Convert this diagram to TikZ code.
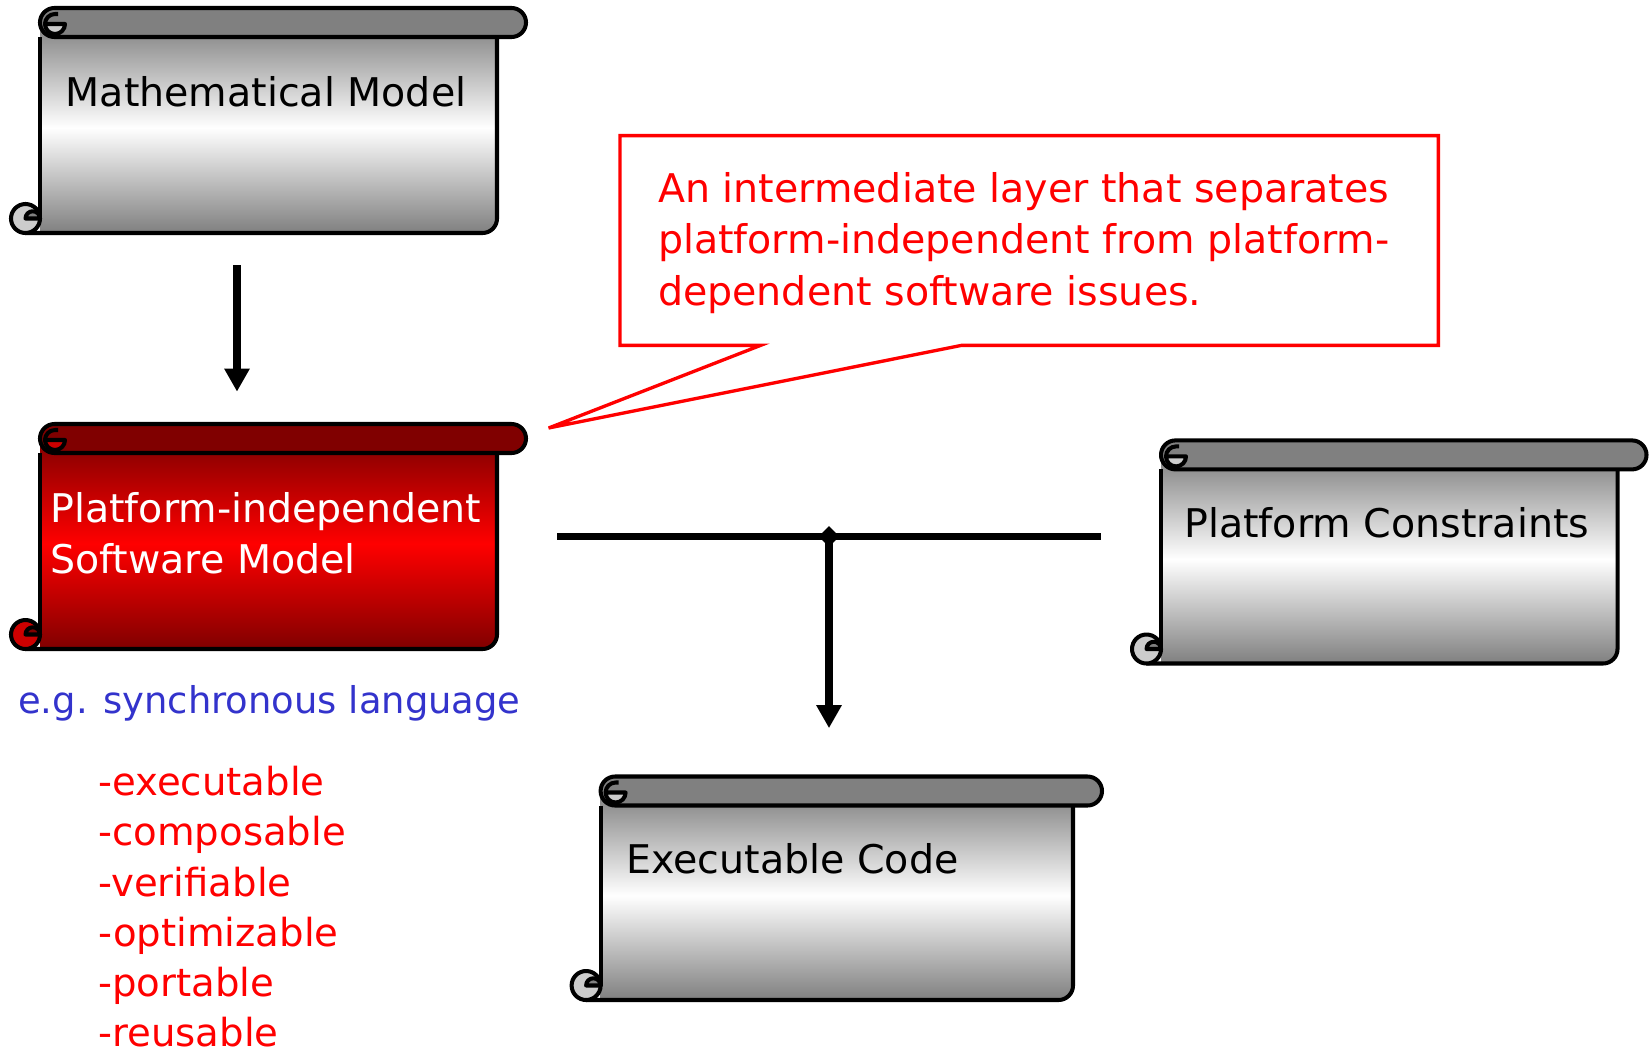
\documentclass[tikz,border=0pt]{standalone}
\usepackage{fontspec}
\setmainfont{DejaVu Sans}
\usetikzlibrary{arrows.meta,shapes.geometric,fit,calc}

\definecolor{egblue}{RGB}{51,51,204}
\definecolor{darkred}{RGB}{128,0,0}
\definecolor{curlred}{RGB}{204,0,0}
\definecolor{curlgray}{RGB}{204,204,204}

\tikzset{
  scrollline/.style={line width=2.3pt, line join=round},
  scrolltext/.style={font=\fontsize{22.5}{29.5}\selectfont, inner sep=0pt, align=left},
  conn/.style={line width=4pt, -{Triangle[length=0.46cm,width=0.48cm]}},
  notebox/.style={draw=red, line width=1.9pt, fill=white, line join=miter},
}

% scroll: name, left, top, right, bottom, edge colour, middle colour, curl colour
\newcommand{\drawscroll}[8]{%
  \shade[top color=#6, bottom color=#6, middle color=#7]
    (#2,{#3+14.5}) -- (#2,#5) -- ({#4-14.5},#5) arc (90:0:14.5) -- (#4,{#3+14.5}) -- cycle;
  \draw[scrollline] (#2,{#3+29}) -- (#2,{#5-14.5});
  \draw[scrollline] ({#2-14.5},#5) -- ({#4-14.5},#5) arc (90:0:14.5) -- (#4,{#3+29});
  \draw[scrollline, fill=#8] ({#2-14.5},{#5-14.5}) circle (14.5);
  \draw[scrollline, fill=#6] ({#2-14.5},{#5-14.5}) arc (180:360:7.25) -- cycle;
  \draw[scrollline, fill=#6] ({#2+14.5},#3) -- ({#4+14.5},#3) arc (-90:90:14.5)
    -- ({#2+14.5},{#3+29}) arc (90:270:14.5) -- cycle;
  \draw[scrollline, fill=#8] ({#2+5},{#3+16}) arc (180:0:10) -- cycle;
  \draw[scrollline] ({#2+5},{#3+16}) arc (180:270:10) -- ({#2+18},{#3+6});
  \node (#1) [fit={(#2,#3) (#4,#5)}, inner sep=0pt] {};
}

\begin{document}
\begin{tikzpicture}[x=0.02cm, y=-0.02cm]
    \useasboundingbox (0,0) rectangle (1652,1055);

    % Scrolls
    \drawscroll{math}{40}{8}{497}{233}{gray}{white}{curlgray}
    \drawscroll{pim}{40}{424}{497}{649}{darkred}{red}{curlred}
    \drawscroll{pc}{1161}{440.4}{1617.5}{663.5}{gray}{white}{curlgray}
    \drawscroll{ec}{600.6}{776.5}{1073}{1000}{gray}{white}{curlgray}

    % Scroll texts
    \node (mathtxt) [scrolltext, anchor=base west] at (65.4,106.7) {Mathematical Model};
    \node (pimtxt) [scrolltext, text=white, anchor=north west] at (50,491.7) {Platform-independent\\Software Model};
    \node (pctxt) [scrolltext, anchor=base west] at (1184,537) {Platform Constraints};
    \node (ectxt) [scrolltext, anchor=base west] at (626,873) {Executable Code};

    % Callout
    \node (note) [fit={(620.4,136) (1438,345)}, inner sep=0pt] {};
    \coordinate (notetip) at (548.6,428);
    \draw[notebox] (note.north west) -- (note.north east) -- (note.south east)
      -- ($(note.south west)+(341.6,0)$) -- (notetip) -- ($(note.south west)+(140.6,0)$)
      -- (note.south west) -- cycle;
    \node (notetxt) [scrolltext, text=red, anchor=north west] at (657.7,171.7)
      {An intermediate layer that separates\\platform-independent from platform-\\dependent software issues.};

    % Notes below the model
    \node (eg) [scrolltext, font=\fontsize{21}{29}\selectfont, text=egblue, anchor=base west] at (17.9,713) {e.g. synchronous language};
    \node (props) [scrolltext, font=\fontsize{22}{28.6}\selectfont, text=red, anchor=north west] at (98,766)
      {-executable\\-composable\\-verifiable\\-optimizable\\-portable\\-reusable};

    % Edges
    \draw[conn] ($(math.south)+(-31.5,32)$) -- ($(pim.north)+(-31.5,-32)$);
    \draw[line width=4.5pt, shorten <=1.2cm, shorten >=1.2cm] (pim.east) -- (pim.east -| pc.west);
    \coordinate (mid) at ($(pim.east)!0.5!(pim.east -| pc.west)$);
    \draw[conn, shorten >=0.96cm] (mid) -- (mid |- ec.north);
    \node (junc) [diamond, fill=black, inner sep=0pt, minimum size=0.42cm] at (mid) {};

\end{tikzpicture}
\end{document}
